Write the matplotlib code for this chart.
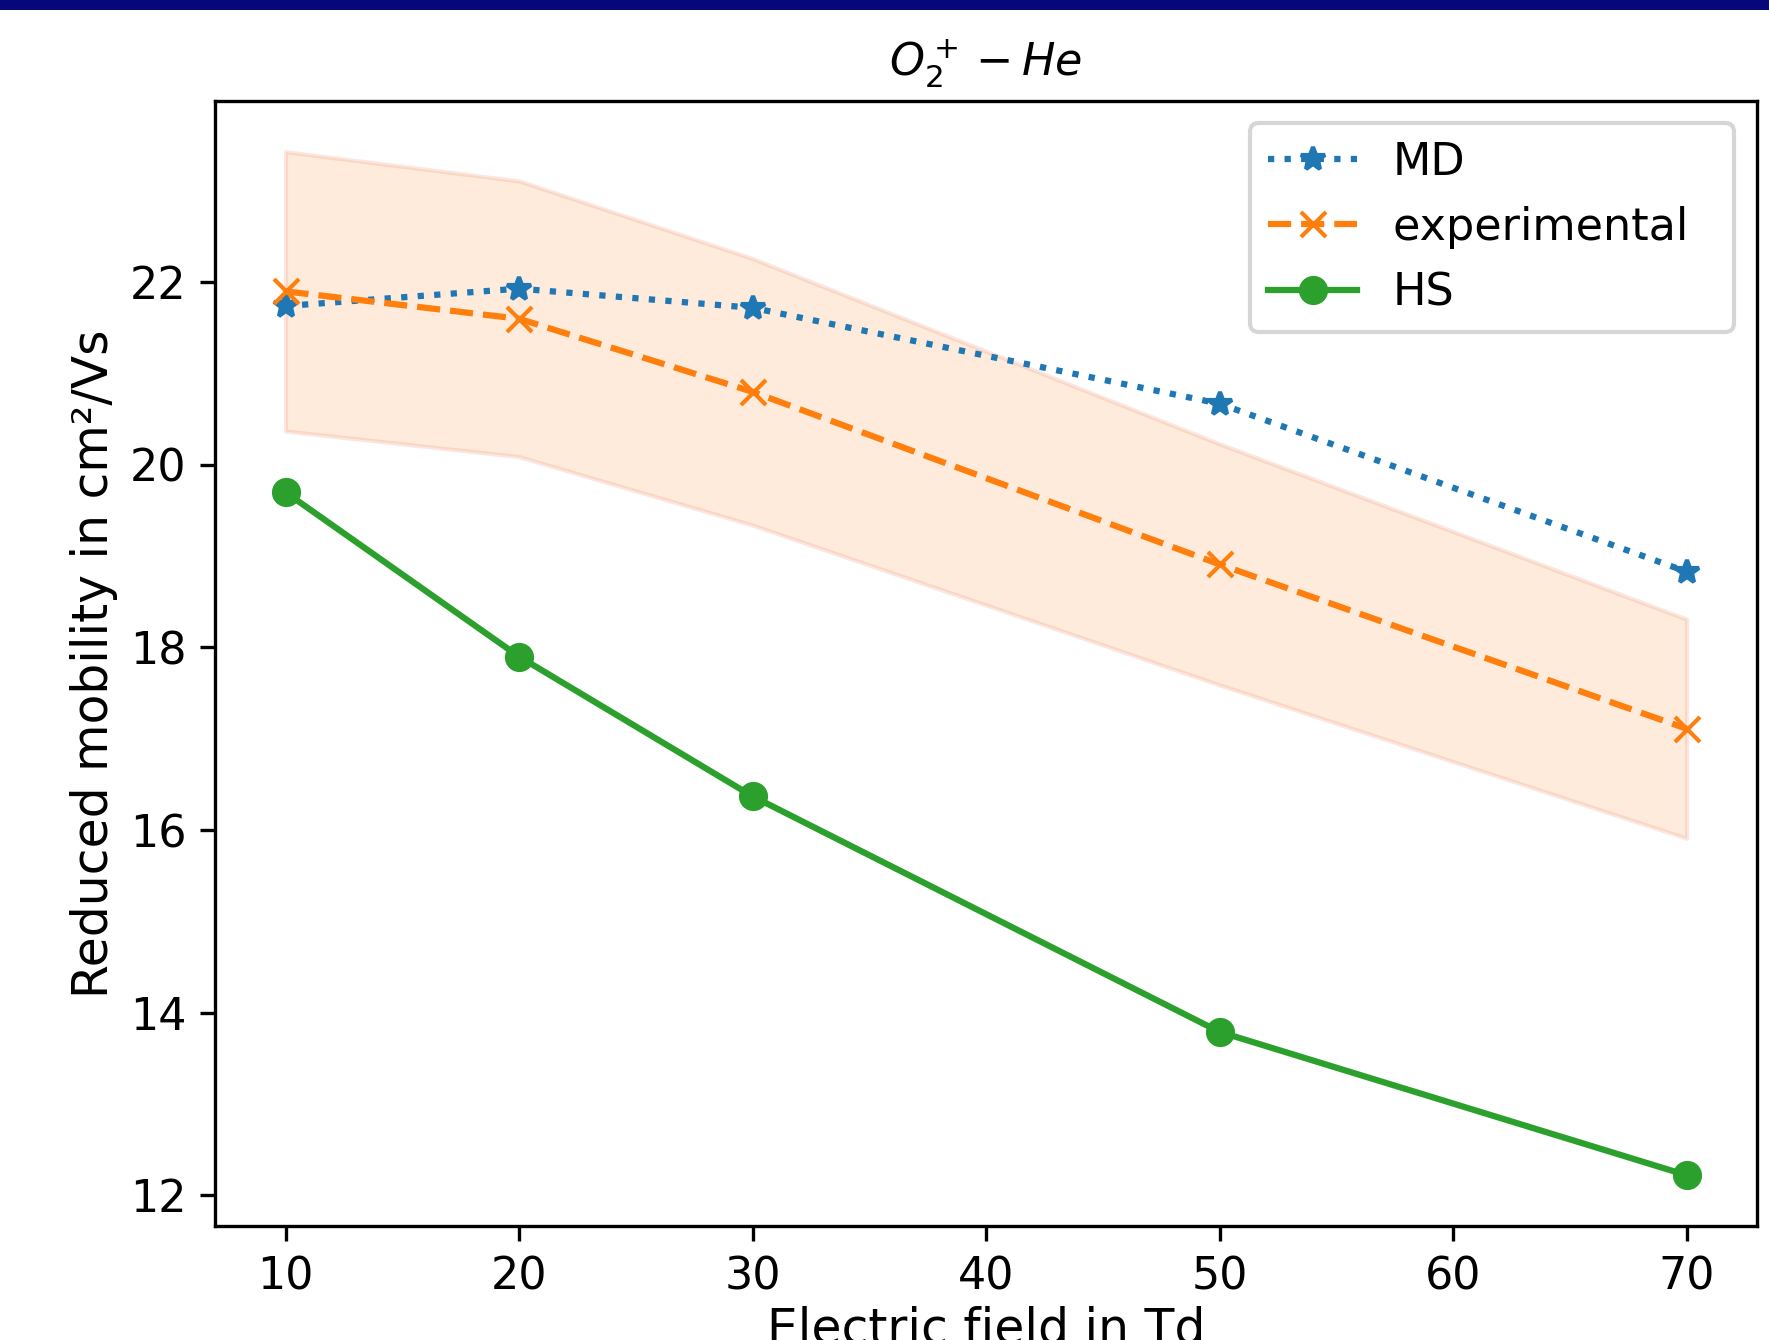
import matplotlib
matplotlib.use("Agg")
import matplotlib.pyplot as plt
from matplotlib.patches import Rectangle

# reduced mobility of O2+ in He
field_td = [10, 20, 30, 50, 70]
md_mobility = [21.74, 21.93, 21.72, 20.67, 18.83]
exp_mobility = [21.90, 21.60, 20.80, 18.91, 17.11]
exp_error = [1.53, 1.51, 1.46, 1.32, 1.20]
hs_mobility = [19.70, 17.90, 16.37, 13.79, 12.22]

plt.rcParams["font.size"] = 10.7

fig = plt.figure(figsize=(1769 / 300, 1340 / 300), dpi=300)
ax = fig.add_axes([0.1218, 0.0848, 0.8712, 0.8402])

lower = [m - e for m, e in zip(exp_mobility, exp_error)]
upper = [m + e for m, e in zip(exp_mobility, exp_error)]
ax.fill_between(field_td, lower, upper, facecolor="C1", edgecolor="#e0603c", alpha=0.15, linewidth=1.0)

ax.plot(field_td, md_mobility, ":*", color="C0", label="MD")
ax.plot(field_td, exp_mobility, "--x", color="C1", label="experimental  ")
ax.plot(field_td, hs_mobility, "-o", color="C2", label="HS")

ax.set_title(r"$O_2^+ - He$", fontsize=10.7)
ax.set_xlabel("Electric field in Td", fontsize=11.7, labelpad=1.6)
ax.set_ylabel("Reduced mobility in cm²/Vs", fontsize=11.7, labelpad=2.8)
ax.set_yticks([12, 14, 16, 18, 20, 22])
ax.legend(loc="upper right")

# slide banner strip across the top
fig.patches.append(Rectangle((0, 1 - 10 / 1340), 1, 10 / 1340, transform=fig.transFigure,
                             facecolor="#06087a", edgecolor="none", zorder=5))

fig.savefig("out.png", dpi=300)
